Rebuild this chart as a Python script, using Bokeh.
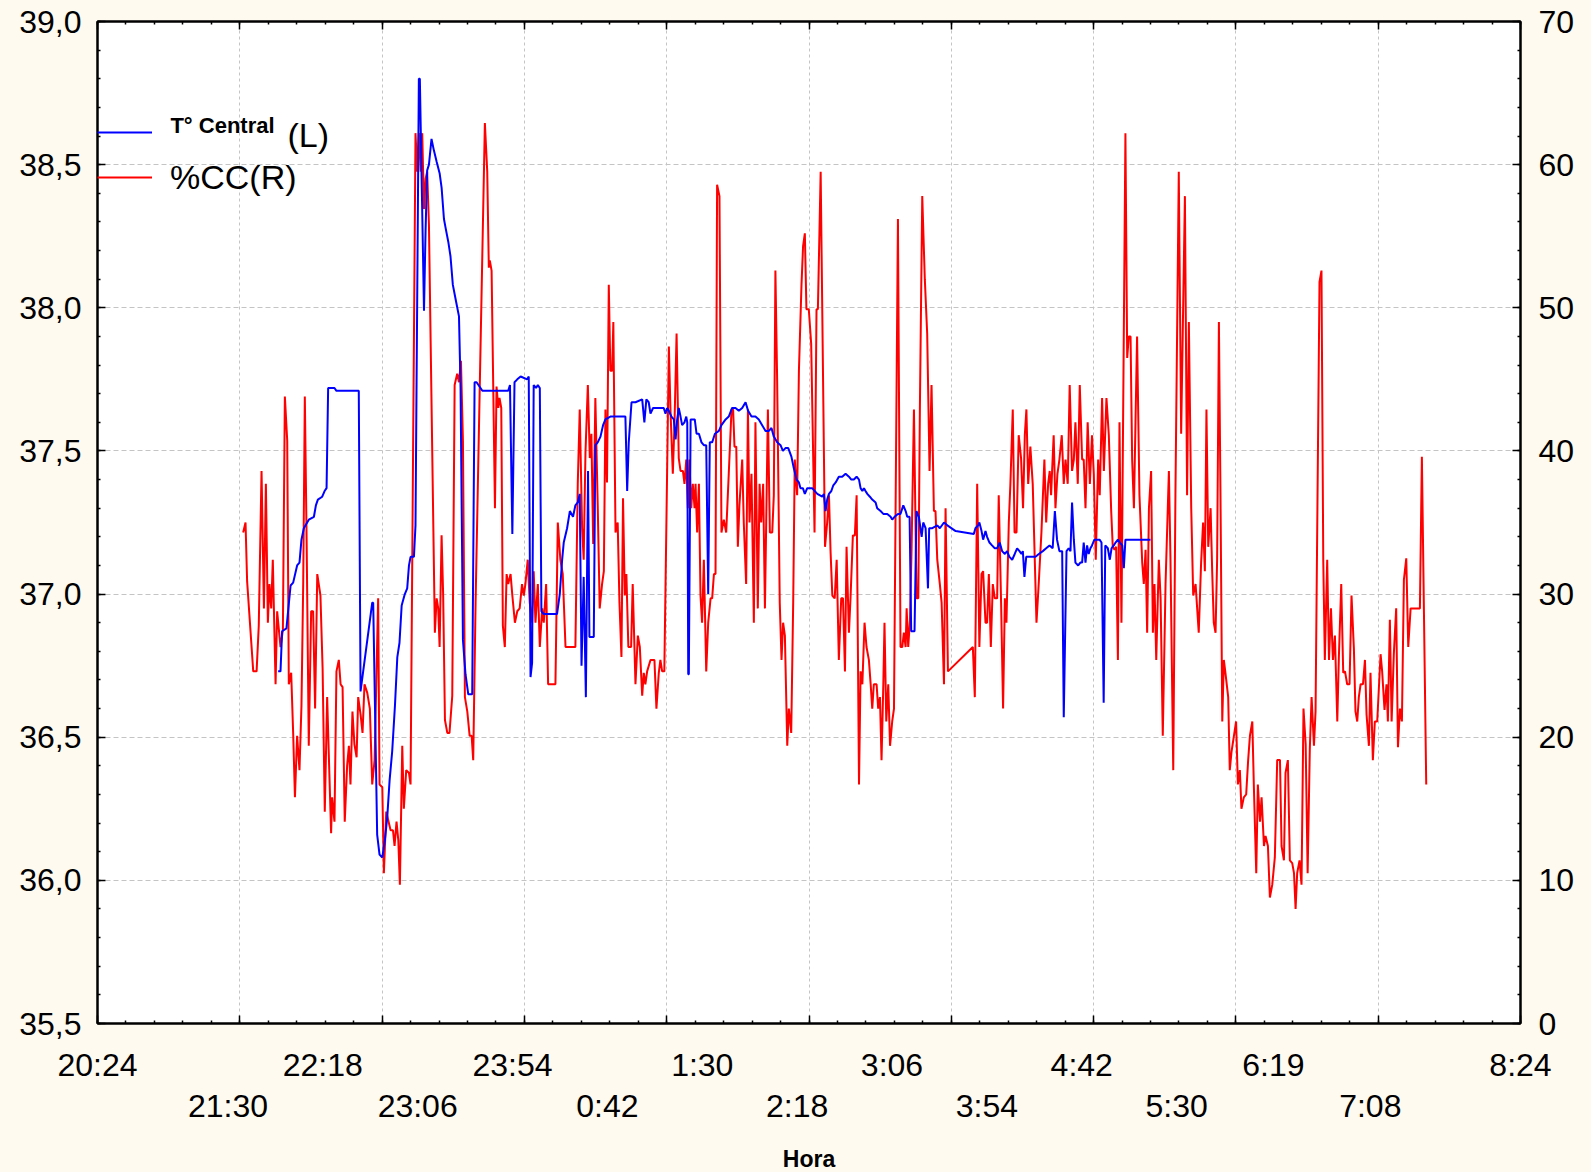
import numpy as np
from bokeh.plotting import figure
from bokeh.models import (Range1d, LinearAxis, FixedTicker, CustomJSTickFormatter,
                          Legend, LegendItem, Label)
from bokeh.embed import file_html
from bokeh.resources import INLINE

# ---------------- data (time = minutes after 20:24) ----------------
tc_min = [91.4, 92.6, 93.4, 95.6, 97.7, 99.0, 101.0, 102.2, 103.2, 104.4, 106.9, 109.5, 110.5, 111.5,
          113.7, 114.9, 115.9, 116.7, 119.9, 120.9, 132.2, 133.1, 139.0, 139.5, 141.5, 142.7, 144.1,
          145.4, 146.6, 147.8, 149.1, 150.5, 151.7, 152.8, 153.9, 155.5, 156.7, 157.6, 158.4, 160.1,
          160.9, 162.6, 163.1, 165.2, 166.0, 166.8, 167.7, 169.0, 170.2, 171.6, 173.1, 174.1, 175.3,
          176.1, 177.5, 178.6, 179.8, 181.2, 182.9, 183.7, 184.9, 186.2, 187.6, 189.6, 190.8, 191.8,
          193.8, 194.7, 207.8, 208.7, 209.9, 211.0, 212.4, 214.1, 217.4, 218.2, 219.1, 219.9, 220.7,
          221.9, 222.8, 223.8, 224.6, 225.8, 232.5, 233.9, 235.1, 235.9, 237.6, 239.0, 240.6, 241.8,
          243.0, 244.0, 244.9, 246.0, 247.1, 248.2, 248.9, 251.1, 251.9, 253.1, 254.5, 255.8, 257.0,
          259.5, 267.1, 268.0, 268.8, 270.2, 272.2, 275.6, 276.7, 277.7, 278.9, 279.8, 281.1, 286.5,
          287.4, 288.2, 289.1, 290.4, 291.6, 292.5, 293.3, 294.1, 295.0, 295.8, 297.0, 297.9, 298.4,
          298.9, 299.2, 300.1, 302.2, 303.1, 304.3, 305.6, 306.8, 308.0, 309.0, 309.8, 311.0, 312.4,
          314.4, 315.7, 317.8, 319.4, 321.1, 322.8, 324.5, 326.2, 327.9, 329.2, 330.9, 332.9, 334.6,
          336.3, 338.0, 339.7, 341.0, 342.2, 343.9, 345.6, 346.8, 348.1, 349.5, 351.1, 352.3, 353.7,
          354.9, 355.7, 356.9, 357.9, 359.1, 361.6, 364.2, 366.7, 367.5, 368.4, 369.2, 370.1, 371.3,
          372.3, 373.5, 375.1, 376.8, 378.5, 380.2, 381.4, 382.7, 384.1, 385.3, 386.1, 387.0, 387.8,
          388.6, 389.5, 390.8, 392.0, 393.7, 394.5, 396.2, 397.6, 399.6, 401.3, 402.1, 403.3, 405.0,
          406.3, 407.7, 408.9, 409.7, 410.9, 411.7, 413.4, 414.4, 415.6, 417.0, 417.8, 419.0, 420.2,
          420.8, 422.4, 424.9, 426.2, 428.3, 430.0, 434.2, 443.4, 444.2, 445.6, 446.2, 447.3, 448.1,
          449.3, 450.1, 451.3, 452.6, 454.0, 455.2, 456.5, 457.7, 459.1, 460.2, 461.4, 462.8, 464.1,
          465.3, 466.5, 467.5, 468.2, 469.0, 469.9, 474.6, 476.3, 478.3, 480.0, 481.7, 483.3, 484.4,
          485.5, 486.7, 488.1, 488.9, 490.3, 491.4, 492.3, 493.1, 494.0, 494.8, 496.2, 497.3, 498.2,
          499.0, 499.9, 500.7, 501.5, 502.4, 503.2, 504.4, 505.8, 507.0, 508.0, 509.1, 509.9, 511.2,
          512.2, 513.1, 514.2, 515.1, 516.3, 517.3, 518.5, 519.3, 520.1, 532.8]
tc_val = [36.73, 36.73, 36.87, 36.88, 37.03, 37.04, 37.10, 37.11, 37.19, 37.23, 37.26, 37.27, 37.31, 37.33,
          37.34, 37.36, 37.37, 37.72, 37.72, 37.71, 37.71, 36.66, 36.97, 36.97, 36.16, 36.09, 36.08,
          36.14, 36.22, 36.35, 36.45, 36.61, 36.78, 36.83, 36.96, 37.00, 37.02, 37.10, 37.13, 37.13,
          37.24, 38.80, 38.80, 37.99, 38.27, 38.48, 38.50, 38.59, 38.55, 38.51, 38.47, 38.42, 38.31,
          38.28, 38.23, 38.18, 38.08, 38.03, 37.97, 37.72, 36.84, 36.72, 36.65, 36.65, 37.74, 37.74,
          37.72, 37.71, 37.71, 37.73, 37.21, 37.74, 37.75, 37.76, 37.75, 37.76, 36.71, 36.76, 37.73,
          37.72, 37.73, 37.72, 36.94, 36.93, 36.93, 37.00, 37.12, 37.18, 37.23, 37.29, 37.27, 37.31,
          37.32, 37.35, 36.75, 37.06, 36.64, 37.43, 36.85, 36.85, 37.52, 37.53, 37.55, 37.59, 37.61,
          37.62, 37.62, 37.36, 37.53, 37.67, 37.67, 37.68, 37.60, 37.68, 37.67, 37.63, 37.65, 37.65,
          37.63, 37.65, 37.64, 37.62, 37.61, 37.54, 37.61, 37.65, 37.62, 37.59, 37.60, 37.62, 37.60,
          36.72, 36.72, 37.61, 37.61, 37.56, 37.56, 37.53, 37.52, 37.52, 37.00, 37.53, 37.53, 37.56,
          37.57, 37.59, 37.61, 37.62, 37.65, 37.65, 37.64, 37.65, 37.67, 37.64, 37.62, 37.62, 37.61,
          37.59, 37.57, 37.57, 37.58, 37.55, 37.53, 37.52, 37.50, 37.51, 37.51, 37.48, 37.44, 37.40,
          37.39, 37.37, 37.37, 37.35, 37.37, 37.37, 37.35, 37.34, 37.35, 37.29, 37.33, 37.35, 37.36,
          37.38, 37.39, 37.41, 37.41, 37.42, 37.41, 37.40, 37.40, 37.41, 37.40, 37.37, 37.36, 37.37,
          37.36, 37.35, 37.34, 37.33, 37.32, 37.30, 37.29, 37.28, 37.28, 37.27, 37.26, 37.27, 37.28,
          37.28, 37.31, 37.29, 37.27, 37.27, 36.87, 36.87, 37.29, 37.27, 37.20, 37.25, 37.23, 37.02,
          37.23, 37.23, 37.24, 37.23, 37.25, 37.24, 37.22, 37.21, 37.23, 37.24, 37.25, 37.22, 37.19,
          37.22, 37.20, 37.18, 37.17, 37.16, 37.16, 37.18, 37.15, 37.14, 37.15, 37.13, 37.12, 37.14,
          37.16, 37.15, 37.14, 37.15, 37.06, 37.13, 37.13, 37.14, 37.15, 37.16, 37.17, 37.16, 37.29,
          37.19, 37.15, 37.15, 36.57, 37.15, 37.16, 37.15, 37.32, 37.19, 37.11, 37.10, 37.11, 37.11,
          37.18, 37.11, 37.17, 37.14, 37.16, 37.17, 37.19, 37.19, 37.19, 37.18, 36.62, 37.17, 37.16,
          37.12, 37.16, 37.17, 37.18, 37.19, 37.18, 37.17, 37.09, 37.19, 37.19]

cc_min = [73.7, 74.9, 75.7, 78.8, 80.5, 81.6, 83.0, 84.2, 85.2, 86.2, 87.0, 87.9, 88.7, 90.1, 90.9, 92.6,
          93.8, 94.8, 96.0, 96.8, 98.0, 99.0, 99.9, 101.0, 102.2, 103.2, 104.1, 104.9, 105.8, 106.9,
          108.1, 109.1, 110.1, 111.2, 112.8, 113.9, 115.0, 116.2, 117.2, 118.2, 118.7, 119.9, 120.9,
          122.1, 123.0, 124.0, 125.1, 126.3, 127.2, 128.0, 129.0, 130.0, 131.1, 131.9, 133.1, 134.1,
          135.1, 136.5, 137.8, 139.0, 140.2, 142.0, 142.7, 144.1, 144.9, 146.1, 147.1, 148.3, 149.5,
          150.3, 151.3, 152.2, 153.0, 154.2, 155.0, 156.2, 157.6, 158.4, 160.9, 161.8, 162.6, 163.5,
          164.3, 165.2, 166.0, 166.8, 167.7, 170.7, 171.6, 172.4, 173.1, 174.1, 174.9, 175.8, 177.0,
          178.1, 179.5, 180.7, 182.0, 182.9, 183.9, 184.9, 185.9, 187.1, 188.3, 189.3, 190.1, 191.3,
          196.0, 197.2, 198.0, 198.5, 199.4, 201.1, 201.9, 202.8, 203.4, 204.3, 205.1, 206.1, 207.0,
          207.8, 209.0, 209.9, 211.2, 212.4, 213.6, 214.8, 215.7, 216.5, 217.7, 218.7, 219.9, 220.7,
          221.6, 222.8, 223.8, 225.0, 225.8, 227.0, 228.0, 231.7, 232.9, 234.2, 235.4, 236.8, 241.8,
          243.0, 244.0, 245.2, 246.0, 246.9, 248.1, 249.1, 249.9, 250.8, 251.9, 253.1, 254.1, 255.3,
          256.2, 257.0, 257.8, 258.7, 259.5, 260.4, 261.0, 262.1, 263.2, 264.1, 265.1, 265.9, 266.8,
          267.6, 268.6, 270.0, 270.8, 272.2, 273.4, 274.4, 275.6, 276.4, 277.2, 278.1, 279.8, 281.8,
          282.8, 284.0, 284.8, 285.7, 286.8, 289.1, 289.9, 291.1, 292.0, 293.0, 294.1, 295.0, 296.2,
          297.0, 297.9, 298.7, 299.5, 300.4, 301.2, 302.1, 302.6, 303.4, 304.3, 305.1, 305.9, 306.8,
          308.0, 309.0, 310.2, 311.0, 311.9, 312.7, 313.5, 314.7, 315.7, 316.9, 318.1, 319.4, 320.8,
          321.6, 322.3, 323.2, 324.0, 324.8, 326.2, 327.0, 328.2, 329.1, 329.9, 330.9, 332.1, 332.9,
          334.1, 335.0, 335.8, 336.8, 337.7, 339.2, 340.2, 341.4, 342.2, 343.0, 343.9, 345.2, 346.1,
          346.9, 347.8, 349.0, 349.8, 351.0, 352.0, 352.8, 354.0, 354.9, 356.2, 357.0, 357.9, 358.7,
          359.9, 361.1, 362.8, 363.8, 364.5, 365.9, 368.1, 369.2, 370.1, 370.9, 371.8, 373.0, 374.0,
          375.1, 376.3, 377.2, 378.2, 379.0, 380.2, 381.0, 382.2, 383.2, 384.1, 385.3, 386.1, 387.0,
          388.1, 389.1, 390.3, 391.2, 392.0, 392.8, 394.2, 395.0, 395.9, 396.7, 397.6, 398.2, 399.1,
          400.1, 401.0, 402.1, 403.0, 405.0, 406.3, 407.2, 408.0, 408.9, 409.4, 410.2, 411.1, 411.9,
          413.1, 414.4, 415.3, 416.1, 417.3, 418.6, 419.8, 421.0, 422.0, 423.2, 424.0, 424.9, 426.2,
          427.1, 428.3, 429.1, 430.3, 442.9, 443.9, 445.1, 446.2, 447.3, 448.1, 449.3, 450.1, 451.0,
          452.0, 453.0, 454.0, 455.2, 456.0, 457.2, 458.2, 459.1, 459.9, 461.1, 461.9, 463.1, 464.0,
          465.0, 466.1, 467.3, 468.3, 469.2, 470.0, 470.9, 472.0, 473.2, 475.1, 476.3, 477.6, 479.1,
          480.0, 481.0, 481.8, 482.5, 483.0, 483.8, 484.7, 485.7, 486.7, 487.9, 488.9, 489.8, 490.9,
          491.9, 493.1, 494.0, 494.8, 496.0, 497.0, 498.2, 499.0, 499.9, 501.0, 502.1, 503.2, 504.1,
          505.1, 506.3, 507.1, 508.3, 509.2, 510.5, 511.7, 512.9, 513.7, 514.6, 515.4, 516.3, 517.1,
          518.1, 520.1, 521.0, 521.8, 522.7, 523.5, 524.4, 525.2, 526.0, 527.2, 528.6, 529.4, 530.3,
          531.1, 532.0, 533.1, 534.0, 534.8, 535.7, 537.0, 537.9, 539.0, 540.4, 542.1, 542.9, 544.3,
          545.4, 547.1, 548.3, 550.2, 551.3, 552.2, 553.4, 554.4, 555.6, 556.4, 557.2, 558.4, 559.4,
          560.3, 561.1, 562.0, 563.2, 564.0, 564.8, 565.7, 566.5, 567.4, 568.2, 569.1, 569.9, 570.7,
          572.1, 572.9, 573.8, 575.0, 576.1, 577.0, 578.0, 578.8, 580.0, 581.2, 582.2, 583.1, 584.3,
          585.1, 586.3, 587.1, 588.2, 589.0, 590.2, 591.0, 592.2, 593.2, 594.4, 595.7, 596.9, 598.3,
          599.1, 600.3, 601.1, 602.3, 603.3, 604.5, 605.4, 606.2, 607.0, 608.2, 609.2, 610.2, 611.3,
          612.3, 613.4, 614.3, 615.5, 616.3, 618.3, 619.3, 620.2, 621.0, 622.2, 623.1, 624.1, 625.1,
          626.1, 627.3, 628.1, 629.3, 630.3, 631.2, 632.3, 633.5, 634.5, 635.7, 636.5, 637.4, 638.2,
          639.1, 640.3, 641.3, 642.1, 643.3, 644.1, 645.3, 646.3, 647.5, 649.2, 650.0, 651.2, 652.2,
          652.9, 653.9, 654.8, 655.9, 657.1, 658.0, 659.0, 660.0, 661.0, 662.2, 663.2, 664.4, 669.1,
          670.1, 672.3]
cc_val = [34.3, 35.0, 30.9, 24.6, 24.6, 27.8, 38.6, 29.0, 37.7, 28.0, 30.7, 29.0, 32.4, 23.7, 28.8, 26.3,
          27.5, 43.8, 40.7, 23.7, 24.5, 20.3, 15.8, 20.1, 17.7, 22.2, 30.9, 43.8, 33.9, 19.4,
          28.8, 28.8, 22.0, 31.4, 29.9, 24.8, 14.8, 22.8, 18.0, 13.3, 15.8, 14.1, 24.6,
          25.4, 23.7, 23.5, 14.1, 18.0, 19.4, 16.7, 21.8, 19.5, 18.6, 22.8, 21.6, 20.3,
          23.7, 23.1, 22.0, 16.7, 18.4, 29.7, 16.7, 16.5, 10.5, 14.8, 14.2, 13.5, 13.5,
          12.4, 14.1, 12.8, 9.7, 19.4, 15.0, 17.7, 17.5, 16.7, 62.2, 59.5, 62.2, 59.5,
          62.2, 56.9, 59.0, 59.5, 55.8, 27.3, 29.7, 29.0, 26.3, 34.1, 29.9, 21.2, 20.3,
          20.3, 22.9, 44.6, 45.4, 44.8, 46.3, 40.7, 22.8, 21.8, 20.1, 20.1, 18.4, 29.4,
          62.9, 59.5, 52.8, 53.3, 52.6, 36.0, 44.5, 43.0, 43.7, 43.0, 27.8, 26.3, 31.4,
          30.7, 31.4, 29.9, 28.0, 28.8, 29.0, 30.7, 29.9, 30.7, 32.4, 29.4, 28.0, 31.6,
          28.0, 30.7, 26.3, 29.0, 28.0, 30.7, 23.7, 23.7, 35.0, 32.4, 31.4, 26.3, 26.3,
          37.7, 42.9, 34.6, 32.4, 39.9, 44.6, 39.5, 41.2, 33.5, 43.7, 36.2, 29.0, 30.7,
          31.6, 42.9, 37.8, 51.6, 45.6, 45.6, 49.0, 34.3, 35.0, 29.4, 25.6, 36.7, 29.9,
          31.4, 26.3, 26.3, 30.7, 23.7, 27.1, 26.3, 22.9, 24.5, 23.7, 24.6, 25.4, 25.4,
          22.0, 24.5, 25.4, 24.6, 24.6, 47.3, 42.9, 38.4, 42.2, 48.2, 39.5, 38.6, 38.6,
          37.7, 39.4, 36.0, 39.4, 36.0, 37.7, 36.0, 37.7, 34.3, 37.7, 29.9, 28.0, 32.4,
          24.6, 28.0, 29.7, 29.7, 31.4, 31.4, 58.6, 57.8, 34.3, 35.2, 34.3, 38.4, 42.9,
          42.9, 40.3, 40.3, 33.3, 36.2, 39.4, 35.0, 30.7, 42.9, 35.0, 38.4, 28.0, 42.0,
          29.0, 37.7, 35.0, 37.7, 29.0, 42.9, 34.3, 34.3, 36.9, 52.6, 44.8, 29.4, 25.4,
          28.0, 27.1, 19.4, 22.0, 20.3, 29.4, 39.4, 36.9, 45.6, 51.6, 54.3, 55.2, 49.9,
          49.9, 47.5, 34.3, 49.9, 49.9, 59.5, 33.3, 35.0, 36.9, 33.0, 29.9, 29.7, 32.4,
          25.4, 29.7, 29.7, 24.6, 33.3, 27.3, 29.7, 34.1, 34.1, 36.9, 16.7, 24.6, 23.7,
          28.0, 26.3, 25.4, 23.7, 22.0, 23.7, 23.7, 22.0, 22.8, 18.4, 23.7, 28.0, 21.1,
          23.7, 19.4, 21.1, 22.0, 56.2, 26.3, 26.3, 27.3, 26.3, 29.0, 26.3, 28.2, 33.2,
          42.9, 29.7, 29.7, 42.9, 57.8, 52.0, 48.2, 38.6, 44.6, 35.8, 35.8, 32.4, 30.7,
          29.4, 23.7, 36.0, 24.6, 26.3, 22.8, 37.7, 26.3, 31.4, 31.6, 28.0, 28.0, 31.4,
          26.3, 30.7, 29.7, 29.7, 36.9, 29.4, 22.0, 29.7, 28.0, 35.0, 37.7, 42.9, 34.3,
          34.3, 41.1, 39.5, 36.0, 41.1, 42.9, 37.7, 40.3, 37.7, 28.0, 30.9, 34.3, 39.4,
          35.0, 37.7, 38.6, 36.9, 38.6, 41.1, 36.0, 38.4, 39.4, 41.1, 37.7, 39.4, 37.7,
          44.6, 38.6, 39.4, 42.0, 37.7, 44.6, 39.4, 39.4, 36.0, 42.0, 37.7, 41.1, 38.4,
          32.4, 39.4, 36.9, 43.7, 38.6, 43.7, 41.1, 35.8, 33.3, 33.1, 33.3, 25.4, 42.0,
          28.0, 62.2, 46.5, 48.0, 48.0, 39.4, 36.0, 42.0, 48.0, 36.9, 32.2, 30.7, 33.1,
          27.3, 36.0, 38.6, 27.3, 30.7, 25.4, 32.4, 29.7, 20.1, 30.7, 38.6, 32.4, 17.7,
          36.9, 59.5, 41.2, 57.8, 36.9, 49.0, 36.0, 29.9, 30.7, 29.0, 27.3, 32.2, 35.0,
          31.6, 42.9, 33.3, 36.0, 31.6, 28.0, 27.3, 32.4, 49.0, 36.9, 21.1, 25.4, 24.5,
          22.8, 17.7, 19.0, 20.1, 21.1, 16.7, 17.7, 15.0, 15.8, 16.0, 18.4, 20.1, 21.1,
          16.5, 10.5, 16.7, 14.1, 15.8, 12.4, 13.1, 12.4, 8.8, 9.7, 11.6, 18.4, 18.4,
          12.4, 11.4, 17.5, 18.4, 11.4, 11.2, 10.5, 8.0, 10.5, 11.4, 9.7, 22.0, 19.5,
          10.5, 19.2, 22.8, 19.4, 21.8, 51.8, 52.6, 32.4, 25.4, 32.4, 25.4, 29.0, 25.4,
          27.1, 21.1, 25.6, 30.7, 24.5, 24.6, 23.7, 23.7, 29.9, 26.2, 21.8, 21.1, 22.8,
          23.7, 23.7, 25.4, 21.6, 19.4, 24.5, 18.4, 21.1, 21.1, 25.8, 24.6, 21.9, 23.7,
          21.1, 28.2, 21.1, 25.8, 29.0, 19.3, 22.0, 21.1, 31.0, 32.5, 26.3, 29.0, 29.0,
          39.6, 16.7]

# tick labels (minutes after 20:24)
row1_pos = [0, 114, 210, 306, 402, 498, 595, 720]
row1_lab = ["20:24", "22:18", "23:54", "1:30", "3:06", "4:42", "6:19", "8:24"]
row2_pos = [66, 162, 258, 354, 450, 546, 644]
row2_lab = ["21:30", "23:06", "0:42", "2:18", "3:54", "5:30", "7:08"]
grid_pos = [0, 72, 144, 216, 288, 360, 432, 504, 576, 648, 720]
left_ticks = [35.5, 36.0, 36.5, 37.0, 37.5, 38.0, 38.5, 39.0]
right_ticks = [0, 10, 20, 30, 40, 50, 60, 70]

# ---------------- figure ----------------
FONT = "Liberation Sans"
BG = "#FFFAF0"
TICK_FS = "32px"

x_minor = np.round(np.arange(0, 720.01, 14.4), 2).tolist()
yl_minor = np.round(np.arange(35.5, 39.001, 0.1), 2).tolist()
yr_minor = list(range(0, 71, 2))

p = figure(frame_width=1423, frame_height=1002,
           x_range=Range1d(0, 720), y_range=Range1d(35.5, 39.0),
           output_backend="svg", toolbar_location=None,
           min_border_left=97, min_border_right=71, min_border_top=21, min_border_bottom=149,
           background_fill_color="white", border_fill_color=BG,
           outline_line_color="black", outline_line_width=2)
p.extra_y_ranges = {"cc": Range1d(0, 70)}


def style_axis(ax, labels=True):
    ax.axis_line_color = "black"
    ax.axis_line_width = 2
    ax.major_tick_in = 8
    ax.major_tick_out = 0
    ax.minor_tick_in = 3
    ax.minor_tick_out = 0
    ax.major_tick_line_color = "black"
    ax.minor_tick_line_color = "black"
    ax.major_tick_line_width = 1.5
    ax.minor_tick_line_width = 1.5
    ax.major_label_text_font = FONT
    if labels:
        ax.major_label_text_color = "black"
        ax.major_label_text_font_size = TICK_FS
    else:
        ax.major_label_text_color = None
        ax.major_label_text_font_size = "1px"
        ax.major_label_standoff = 0


# bottom axis carrying the grid ticks (labels are on the two rows below)
xa = p.xaxis[0]
xa.ticker = FixedTicker(ticks=grid_pos, minor_ticks=x_minor)
style_axis(xa, labels=False)

# top axis
ta = LinearAxis(ticker=FixedTicker(ticks=grid_pos, minor_ticks=x_minor))
style_axis(ta, labels=False)
p.add_layout(ta, "above")

# left axis
ya = p.yaxis[0]
ya.ticker = FixedTicker(ticks=left_ticks, minor_ticks=yl_minor)
ya.formatter = CustomJSTickFormatter(code="return tick.toFixed(1).replace('.', ',');")
style_axis(ya)
ya.major_label_standoff = 16

# right axis
ra = LinearAxis(y_range_name="cc", ticker=FixedTicker(ticks=right_ticks, minor_ticks=yr_minor))
style_axis(ra)
ra.major_label_standoff = 18
p.add_layout(ra, "right")


# two rows of time labels
def label_axis(pos, lab, standoff):
    ax = LinearAxis(ticker=FixedTicker(ticks=pos),
                    major_label_overrides={k: v for k, v in zip(pos, lab)})
    ax.axis_line_color = None
    ax.major_tick_line_color = None
    ax.minor_tick_line_color = None
    ax.major_tick_in = 0
    ax.major_tick_out = 0
    ax.minor_tick_in = 0
    ax.minor_tick_out = 0
    ax.major_label_text_font = FONT
    ax.major_label_text_font_size = TICK_FS
    ax.major_label_text_color = "black"
    ax.major_label_standoff = standoff
    return ax


rb = label_axis(row1_pos, row1_lab, 23)
rc = label_axis(row2_pos, row2_lab, 2)
rc.axis_label = "Hora"
rc.axis_label_text_font = FONT
rc.axis_label_text_font_style = "bold"
rc.axis_label_text_font_size = "23px"
rc.axis_label_text_color = "black"
rc.axis_label_standoff = 19
p.add_layout(rb, "below")
p.add_layout(rc, "below")

# grids
p.xgrid.ticker = FixedTicker(ticks=grid_pos)
p.ygrid.ticker = FixedTicker(ticks=left_ticks)
p.xgrid.grid_line_color = "#C4C4C4"
p.ygrid.grid_line_color = "#C4C4C4"
p.xgrid.grid_line_dash = "3 3"
p.ygrid.grid_line_dash = "5 3"
p.xgrid.grid_line_width = 1
p.ygrid.grid_line_width = 1

# series
r_red = p.line(cc_min, cc_val, y_range_name="cc", line_color="#FF0000", line_width=2)
r_blue = p.line(tc_min, tc_val, line_color="#0000FF", line_width=2)


# legends (swatches from Bokeh legends; the blue series' name is written as a label)
def make_legend(item, loc, size, style):
    return Legend(items=[item], location=loc, orientation="vertical",
                  border_line_color=None, background_fill_alpha=0,
                  padding=0, margin=0, spacing=0,
                  glyph_width=55, glyph_height=40, label_height=40, label_standoff=18,
                  label_text_font=FONT, label_text_font_size=size,
                  label_text_font_style=style, label_text_color="black")


leg1 = make_legend(LegendItem(label=" ", renderers=[r_blue]), (0, 871), "22px", "bold")
leg2 = make_legend(LegendItem(label="%CC(R)", renderers=[r_red]), (0, 826), "34px", "normal")
p.add_layout(leg1)
p.add_layout(leg2)

p.add_layout(Label(x=36.9, y=38.637, text="T° Central", text_font=FONT, text_font_size="22px",
                   text_font_style="bold", text_baseline="middle", text_align="left",
                   text_color="black"))
p.add_layout(Label(x=96.1, y=38.605, text="(L)", text_font=FONT, text_font_size="34px",
                   text_baseline="middle", text_align="left", text_color="black"))

html = file_html(p, INLINE)
html = html.replace("</head>", "<style>html, body {background-color: #FFFAF0;}</style></head>", 1)
open("out.html", "w").write(html)
